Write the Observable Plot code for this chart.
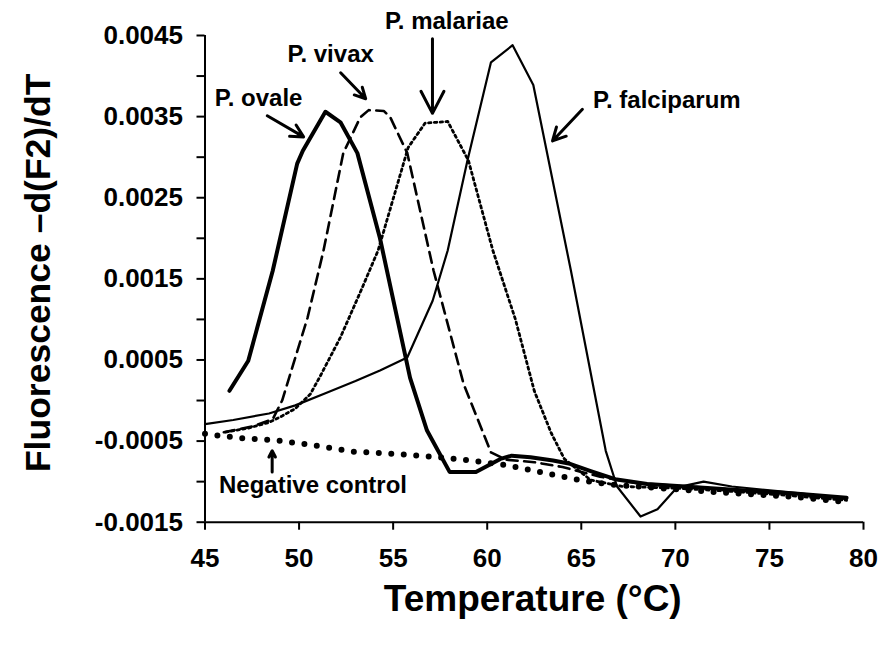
<!DOCTYPE html>
<html>
<head>
<meta charset="utf-8">
<script src="https://cdn.jsdelivr.net/npm/d3@7"></script>
<script src="https://cdn.jsdelivr.net/npm/@observablehq/plot@0.6"></script>
<style>
  html, body { margin: 0; padding: 0; background: #fff; }
  #chart svg { display: block; }
</style>
</head>
<body>
<div id="chart"></div>
<script>
// ---- data (temperature °C, -d(F2)/dT) ----
const ovale = [
  [46.3, 0.00012], [47.3, 0.00049], [48.6, 0.00160], [49.9, 0.00292], [50.2, 0.00308],
  [51.4, 0.00356], [52.2, 0.00343], [53.1, 0.00305], [54.3, 0.00200], [55.9, 0.00028],
  [56.8, -0.00037], [58.0, -0.00088], [59.4, -0.00088], [60.7, -0.00072], [61.3, -0.00068],
  [62.3, -0.00070], [63.5, -0.00074], [64.4, -0.00078], [65.5, -0.00087], [66.8, -0.00097],
  [68.5, -0.00103], [70.5, -0.00106], [72.5, -0.00109], [74.5, -0.00112], [76.5, -0.00115],
  [79.1, -0.00120]
];
const vivax = [
  [46.0, -0.00039], [47.5, -0.00032], [48.6, -0.00023], [49.1, 0.00000], [50.45, 0.00102],
  [51.3, 0.00185], [52.35, 0.00305], [53.25, 0.00349], [53.7, 0.00358], [54.5, 0.00357],
  [54.85, 0.00349], [55.75, 0.00305], [57.15, 0.00160], [58.75, 0.00020], [60.2, -0.00064],
  [61.0, -0.00073], [62.5, -0.00076], [64.0, -0.00082], [66.0, -0.00094], [68.0, -0.00102],
  [70.0, -0.00105], [72.0, -0.00108], [75.0, -0.00113], [79.1, -0.00121]
];
const malariae = [
  [46.1, -0.00039], [47.3, -0.00034], [48.4, -0.00027], [49.1, -0.00019], [49.8, -0.00010],
  [50.6, 0.00008], [51.1, 0.00029], [52.2, 0.00078], [53.3, 0.00136], [54.2, 0.00185],
  [55.8, 0.00312], [56.7, 0.00342], [57.9, 0.00344], [59.0, 0.00296], [60.3, 0.00185],
  [61.5, 0.00100], [62.5, 0.00012], [63.4, -0.00040], [64.1, -0.00072], [65.5, -0.00098],
  [67.2, -0.00106], [70.0, -0.00108], [73.0, -0.00112], [76.0, -0.00117], [79.1, -0.00123]
];
const falciparum = [
  [45.0, -0.00029], [46.5, -0.00024], [48.4, -0.00016], [49.8, -0.00006], [51.4, 0.00009],
  [53.0, 0.00024], [54.3, 0.00037], [55.75, 0.00053], [57.1, 0.00123], [57.9, 0.00185],
  [58.95, 0.00296], [60.2, 0.00417], [61.35, 0.00438], [62.45, 0.00389], [64.45, 0.00160],
  [66.3, -0.00062], [66.9, -0.00106], [68.15, -0.00143], [69.05, -0.00134], [70.1, -0.00107],
  [71.5, -0.00100], [73.0, -0.00106], [76.0, -0.00113], [79.1, -0.00121]
];
const negativeControl = [
  [45.0, -0.00041], [46.0, -0.00044], [47.2, -0.00047], [48.8, -0.00049], [50.7, -0.00055],
  [52.9, -0.00063], [55.2, -0.00066], [57.5, -0.00070], [59.1, -0.00074], [61.1, -0.00080],
  [63.2, -0.00090], [65.1, -0.00099], [66.8, -0.00104], [68.6, -0.00107], [72.2, -0.00113],
  [75.9, -0.00118], [79.1, -0.00125]
];

// ---- axes ----
const xDomain = [45, 80];
const yDomain = [-0.0015, 0.0045];
const xTicks = [45, 50, 55, 60, 65, 70, 75, 80];
const yMajorTicks = [-0.0015, -0.0005, 0.0005, 0.0015, 0.0025, 0.0035, 0.0045];
const yMajorLabels = ["-0.0015", "-0.0005", "0.0005", "0.0015", "0.0025", "0.0035", "0.0045"];
const yMinorTicks = [-0.001, 0, 0.001, 0.002, 0.003, 0.004];
const xTitle = "Temperature (°C)";
const yTitle = "Fluorescence \u2013d(F2)/dT";

// ---- annotations ----
const labelText = ["P. ovale", "P. vivax", "P. malariae", "P. falciparum", "Negative control"];
const labelT = [47.85, 51.68, 57.85, 69.55, 50.74];
const labelV = [0.00372, 0.00427, 0.00468, 0.00370, -0.00104];
const arrowT1 = [48.31, 52.21, 57.09, 65.06, 48.57];
const arrowV1 = [0.00351, 0.00404, 0.00446, 0.00359, -0.00088];
const arrowT2 = [50.24, 53.54, 57.09, 63.47, 48.57];
const arrowV2 = [0.00325, 0.00372, 0.00354, 0.00320, -0.00062];

const labels = labelText.map((t, i) => ({t, x: labelT[i], y: labelV[i]}));
const arrows = arrowT1.map((x1, i) => ({x1, y1: arrowV1[i], x2: arrowT2[i], y2: arrowV2[i]}));

const X = d => d[0], Y = d => d[1];
const font = "'Liberation Sans', Arial, Helvetica, sans-serif";

const chart = Plot.plot({
  width: 882,
  height: 645,
  marginLeft: 204.5,
  marginRight: 19,
  marginTop: 35,
  marginBottom: 123.3,
  style: {fontFamily: font, background: "#fff", color: "#000"},
  x: {domain: xDomain},
  y: {domain: yDomain},
  marks: [
    Plot.axisX({ticks: xTicks, tickSize: 8, tickPadding: 18, fontSize: 26, fontWeight: "bold", label: null, strokeWidth: 2, tickFormat: d => String(d)}),
    Plot.axisY({ticks: yMajorTicks, tickSize: 8, tickPadding: 14, fontSize: 26, fontWeight: "bold", label: null, strokeWidth: 2, tickFormat: d => yMajorLabels[yMajorTicks.indexOf(d)]}),
    Plot.axisY({ticks: yMinorTicks, tickSize: 8, label: null, strokeWidth: 2, tickFormat: () => ""}),
    Plot.ruleX([xDomain[0]], {stroke: "#000", strokeWidth: 2}),
    Plot.ruleY([yDomain[0]], {stroke: "#000", strokeWidth: 2}),
    Plot.line(negativeControl, {x: X, y: Y, stroke: "#000", strokeWidth: 6, strokeDasharray: "0,12.5", strokeLinecap: "round"}),
    Plot.line(malariae, {x: X, y: Y, stroke: "#000", strokeWidth: 2.8, strokeDasharray: "2.4,3.4"}),
    Plot.line(vivax, {x: X, y: Y, stroke: "#000", strokeWidth: 2.6, strokeDasharray: "11,6.5"}),
    Plot.line(falciparum, {x: X, y: Y, stroke: "#000", strokeWidth: 2.2, strokeLinejoin: "round"}),
    Plot.line(ovale, {x: X, y: Y, stroke: "#000", strokeWidth: 4, strokeLinejoin: "round"}),
    Plot.arrow(arrows, {x1: "x1", y1: "y1", x2: "x2", y2: "y2", stroke: "#000", strokeWidth: 3, headLength: 13, headAngle: 55}),
    Plot.text(labels, {x: "x", y: "y", text: "t", fontSize: 24, fontWeight: "bold", fill: "#000", textAnchor: "middle", lineAnchor: "middle"}),
    Plot.text([xTitle], {frameAnchor: "bottom", dx: -1.5, dy: 77, fontSize: 37, fontWeight: "bold", fill: "#000", textAnchor: "middle", lineAnchor: "middle"}),
    Plot.text([yTitle], {frameAnchor: "left", rotate: -90, dx: -166.5, dy: -6, fontSize: 35.5, fontWeight: "bold", fill: "#000", textAnchor: "middle", lineAnchor: "middle"})
  ]
});
document.getElementById("chart").appendChild(chart);
</script>
</body>
</html>
